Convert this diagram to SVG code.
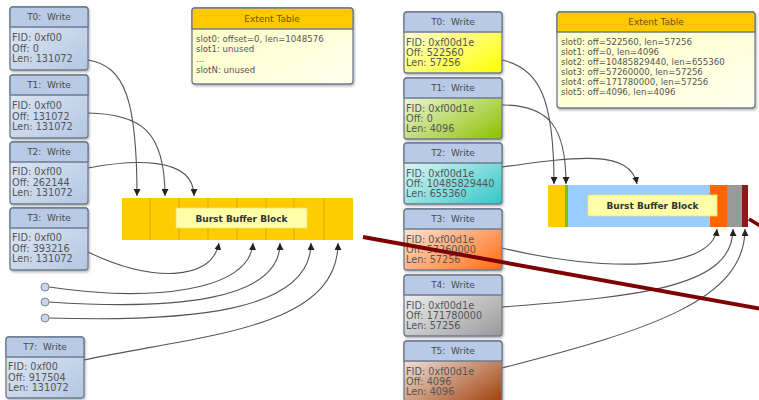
<svg xmlns="http://www.w3.org/2000/svg" width="759" height="400" viewBox="0 0 759 400">
<defs>
<linearGradient id="gBlue" x1="0" y1="0" x2="1" y2="1"><stop offset="0" stop-color="#e3ebf6"/><stop offset="1" stop-color="#b3c7e3"/></linearGradient>
<linearGradient id="gYel" x1="0" y1="0" x2="1" y2="1"><stop offset="0" stop-color="#ffffff"/><stop offset="1" stop-color="#ffff00"/></linearGradient>
<linearGradient id="gGrn" x1="0" y1="0" x2="1" y2="1"><stop offset="0" stop-color="#ffffff"/><stop offset="1" stop-color="#8cc000"/></linearGradient>
<linearGradient id="gCyn" x1="0" y1="0" x2="1" y2="1"><stop offset="0" stop-color="#ffffff"/><stop offset="1" stop-color="#33c6c6"/></linearGradient>
<linearGradient id="gOrg" x1="0" y1="0" x2="1" y2="1"><stop offset="0" stop-color="#ffffff"/><stop offset="0.2" stop-color="#ffe0cc"/><stop offset="1" stop-color="#ff6a10"/></linearGradient>
<linearGradient id="gGry" x1="0" y1="0" x2="1" y2="1"><stop offset="0" stop-color="#ffffff"/><stop offset="1" stop-color="#999999"/></linearGradient>
<linearGradient id="gBrn" x1="0" y1="0" x2="1" y2="1"><stop offset="0" stop-color="#ffffff"/><stop offset="1" stop-color="#a0400a"/></linearGradient>
<linearGradient id="gTab" x1="0" y1="0" x2="1" y2="1"><stop offset="0" stop-color="#ffffc0"/><stop offset="1" stop-color="#ffffee"/></linearGradient>
<filter id="sh" x="-10%" y="-10%" width="130%" height="130%"><feDropShadow dx="1" dy="1.5" stdDeviation="1" flood-color="#000" flood-opacity="0.3"/></filter>
<marker id="ah" viewBox="0 0 10 10" refX="10" refY="5" markerWidth="7" markerHeight="7" orient="auto" markerUnits="userSpaceOnUse"><path d="M0,0 L10,5 L0,10 z" fill="#222"/></marker>
</defs>
<style>
.box{stroke:#6e7c90;stroke-width:1.3;filter:url(#sh)}
.hdr{fill:#b8cae5;stroke:#6e7c90;stroke-width:1.3}
.ht{font-family:"DejaVu Sans",sans-serif;font-size:9px;fill:#4a4a4a;text-anchor:middle}
.bt{font-family:"DejaVu Sans",sans-serif;font-size:9.7px;fill:#555}
.tt{font-family:"DejaVu Sans",sans-serif;font-size:8.6px;fill:#555}
.con{fill:none;stroke:#555;stroke-width:1.1}
.bbl{font-family:"DejaVu Sans",sans-serif;font-size:9px;font-weight:bold;fill:#333;text-anchor:middle}
.div{stroke:#d9a800;stroke-width:1}
</style>

<g id="connectors">
<path class="con" marker-end="url(#ah)" d="M88,60 C125,66 137,100 137,196"/>
<path class="con" marker-end="url(#ah)" d="M88,113 C140,114 165,130 165,196"/>
<path class="con" marker-end="url(#ah)" d="M88,168 C130,160 194,155 194,196"/>
<path class="con" marker-end="url(#ah)" d="M88,252 C150,282 212,282 219,243"/>
<path class="con" marker-end="url(#ah)" d="M49,287 C150,302 250,292 253,243"/>
<path class="con" marker-end="url(#ah)" d="M49,302 C170,310 280,302 280,243"/>
<path class="con" marker-end="url(#ah)" d="M49,318 C190,322 311,312 311,243"/>
<path class="con" marker-end="url(#ah)" d="M84,360 C200,335 338,330 338,243"/>
<path class="con" marker-end="url(#ah)" d="M502,60 C540,68 554,100 554,184"/>
<path class="con" marker-end="url(#ah)" d="M502,105 C550,105 566,128 566,184"/>
<path class="con" marker-end="url(#ah)" d="M502,167 C580,156 630,150 637,184"/>
<path class="con" marker-end="url(#ah)" d="M502,248 C600,272 712,272 717,229"/>
<path class="con" marker-end="url(#ah)" d="M502,307 C650,296 733,285 733,229"/>
<path class="con" marker-end="url(#ah)" d="M502,368 C650,330 745,300 745,229"/>
</g>

<g id="circles">
<circle cx="45" cy="287" r="4" fill="#c9d6e8" stroke="#7a879a" stroke-width="1"/>
<circle cx="45" cy="302" r="4" fill="#c9d6e8" stroke="#7a879a" stroke-width="1"/>
<circle cx="45" cy="318" r="4" fill="#c9d6e8" stroke="#7a879a" stroke-width="1"/>
</g>

<g id="L_T0"><rect class="box" x="10" y="7" width="78" height="63" rx="3" fill="url(#gBlue)"/><path class="hdr" d="M13,7 H85 Q88,7 88,10 V27 H10 V10 Q10,7 13,7 Z"/><text class="ht" x="49" y="20">T0:&#160; Write</text><text class="bt" x="12" y="41">FID: 0xf00</text><text class="bt" x="12" y="51.5">Off: 0</text><text class="bt" x="12" y="62">Len: 131072</text></g>
<g id="L_T1"><rect class="box" x="10" y="75" width="78" height="63" rx="3" fill="url(#gBlue)"/><path class="hdr" d="M13,75 H85 Q88,75 88,78 V95 H10 V78 Q10,75 13,75 Z"/><text class="ht" x="49" y="88">T1:&#160; Write</text><text class="bt" x="12" y="109">FID: 0xf00</text><text class="bt" x="12" y="119.5">Off: 131072</text><text class="bt" x="12" y="130">Len: 131072</text></g>
<g id="L_T2"><rect class="box" x="10" y="142" width="78" height="62" rx="3" fill="url(#gBlue)"/><path class="hdr" d="M13,142 H85 Q88,142 88,145 V162 H10 V145 Q10,142 13,142 Z"/><text class="ht" x="49" y="155">T2:&#160; Write</text><text class="bt" x="12" y="175">FID: 0xf00</text><text class="bt" x="12" y="185.5">Off: 262144</text><text class="bt" x="12" y="196">Len: 131072</text></g>
<g id="L_T3"><rect class="box" x="10" y="208" width="78" height="62" rx="3" fill="url(#gBlue)"/><path class="hdr" d="M13,208 H85 Q88,208 88,211 V228 H10 V211 Q10,208 13,208 Z"/><text class="ht" x="49" y="221">T3:&#160; Write</text><text class="bt" x="12" y="241">FID: 0xf00</text><text class="bt" x="12" y="251.5">Off: 393216</text><text class="bt" x="12" y="262">Len: 131072</text></g>
<g id="L_T7"><rect class="box" x="6" y="337" width="78" height="61" rx="3" fill="url(#gBlue)"/><path class="hdr" d="M9,337 H81 Q84,337 84,340 V357 H6 V340 Q6,337 9,337 Z"/><text class="ht" x="45" y="350">T7:&#160; Write</text><text class="bt" x="8" y="370">FID: 0xf00</text><text class="bt" x="8" y="380.5">Off: 917504</text><text class="bt" x="8" y="391">Len: 131072</text></g>

<g id="L_extent"><rect class="box" x="192" y="8" width="161" height="76" rx="3" fill="url(#gTab)"/><path d="M195,8 H350 Q353,8 353,11 V29 H192 V11 Q192,8 195,8 Z" fill="#ffc800" stroke="#6e7c90" stroke-width="1.3"/><text class="ht" x="272" y="22" style="fill:#6a5200">Extent Table</text><text class="tt" x="196" y="42">slot0: offset=0, len=1048576</text><text class="tt" x="196" y="52">slot1: unused</text><text class="tt" x="196" y="62">...</text><text class="tt" x="196" y="73">slotN: unused</text></g>

<g id="L_block"><rect x="122" y="198" width="231" height="42" fill="#ffcc00"/>
<line class="div" x1="150" y1="198" x2="150" y2="240"/><line class="div" x1="179" y1="198" x2="179" y2="240"/><line class="div" x1="208" y1="198" x2="208" y2="240"/><line class="div" x1="237" y1="198" x2="237" y2="240"/><line class="div" x1="266" y1="198" x2="266" y2="240"/><line class="div" x1="294" y1="198" x2="294" y2="240"/><line class="div" x1="324" y1="198" x2="324" y2="240"/>
<rect x="176" y="208" width="131" height="20" fill="#ffffa8" stroke="#f0e070" stroke-width="0.8"/><text class="bbl" x="241.5" y="221.5">Burst Buffer Block</text></g>

<g id="R_T0"><rect class="box" x="404" y="12" width="98" height="61" rx="3" fill="url(#gYel)"/><path class="hdr" d="M407,12 H499 Q502,12 502,15 V32 H404 V15 Q404,12 407,12 Z"/><text class="ht" x="453" y="25">T0:&#160; Write</text><text class="bt" x="406" y="45.5">FID: 0xf00d1e</text><text class="bt" x="406" y="55.5">Off: 522560</text><text class="bt" x="406" y="65.5">Len: 57256</text></g>
<g id="R_T1"><rect class="box" x="404" y="78" width="98" height="61" rx="3" fill="url(#gGrn)"/><path class="hdr" d="M407,78 H499 Q502,78 502,81 V98 H404 V81 Q404,78 407,78 Z"/><text class="ht" x="453" y="91">T1:&#160; Write</text><text class="bt" x="406" y="111.5">FID: 0xf00d1e</text><text class="bt" x="406" y="121.5">Off: 0</text><text class="bt" x="406" y="131.5">Len: 4096</text></g>
<g id="R_T2"><rect class="box" x="404" y="143" width="98" height="61" rx="3" fill="url(#gCyn)"/><path class="hdr" d="M407,143 H499 Q502,143 502,146 V163 H404 V146 Q404,143 407,143 Z"/><text class="ht" x="453" y="156">T2:&#160; Write</text><text class="bt" x="406" y="176.5">FID: 0xf00d1e</text><text class="bt" x="406" y="186.5">Off: 10485829440</text><text class="bt" x="406" y="196.5">Len: 655360</text></g>
<g id="R_T3"><rect class="box" x="404" y="209" width="98" height="61" rx="3" fill="url(#gOrg)"/><path class="hdr" d="M407,209 H499 Q502,209 502,212 V229 H404 V212 Q404,209 407,209 Z"/><text class="ht" x="453" y="222">T3:&#160; Write</text><text class="bt" x="406" y="242.5">FID: 0xf00d1e</text><text class="bt" x="406" y="252.5">Off: 57260000</text><text class="bt" x="406" y="262.5">Len: 57256</text></g>
<g id="R_T4"><rect class="box" x="404" y="275" width="98" height="61" rx="3" fill="url(#gGry)"/><path class="hdr" d="M407,275 H499 Q502,275 502,278 V295 H404 V278 Q404,275 407,275 Z"/><text class="ht" x="453" y="288">T4:&#160; Write</text><text class="bt" x="406" y="308.5">FID: 0xf00d1e</text><text class="bt" x="406" y="318.5">Off: 171780000</text><text class="bt" x="406" y="328.5">Len: 57256</text></g>
<g id="R_T5"><rect class="box" x="404" y="341" width="98" height="61" rx="3" fill="url(#gBrn)"/><path class="hdr" d="M407,341 H499 Q502,341 502,344 V361 H404 V344 Q404,341 407,341 Z"/><text class="ht" x="453" y="354">T5:&#160; Write</text><text class="bt" x="406" y="374.5">FID: 0xf00d1e</text><text class="bt" x="406" y="384.5">Off: 4096</text><text class="bt" x="406" y="394.5">Len: 4096</text></g>

<g id="R_extent"><rect class="box" x="557" y="12" width="198" height="96" rx="3" fill="url(#gTab)"/><path d="M560,12 H752 Q755,12 755,15 V32 H557 V15 Q557,12 560,12 Z" fill="#ffc800" stroke="#6e7c90" stroke-width="1.3"/><text class="ht" x="656" y="25" style="fill:#6a5200">Extent Table</text>
<text class="tt" x="561" y="45">slot0: off=522560, len=57256</text><text class="tt" x="561" y="55">slot1: off=0, len=4096</text><text class="tt" x="561" y="65">slot2: off=10485829440, len=655360</text><text class="tt" x="561" y="75">slot3: off=57260000, len=57256</text><text class="tt" x="561" y="85">slot4: off=171780000, len=57256</text><text class="tt" x="561" y="95">slot5: off=4096, len=4096</text></g>

<g id="R_block"><rect x="548" y="185" width="200" height="42" fill="#99ccff"/><rect x="548" y="185" width="17" height="42" fill="#ffcc00"/><rect x="565" y="185" width="3" height="42" fill="#88bb00"/><rect x="710" y="185" width="17" height="42" fill="#ff6600"/><rect x="727" y="185" width="15" height="42" fill="#999999"/><rect x="742" y="185" width="6" height="42" fill="#8b1a1a"/>
<rect x="588" y="195" width="129" height="21" fill="#ffffa8" stroke="#f0e070" stroke-width="0.8"/><text class="bbl" x="652.5" y="209">Burst Buffer Block</text></g>

<g id="cross"><line x1="363" y1="237" x2="762" y2="309" stroke="#7f0000" stroke-width="4"/><line x1="749" y1="219" x2="762" y2="227" stroke="#7f0000" stroke-width="3.5"/></g>
</svg>
